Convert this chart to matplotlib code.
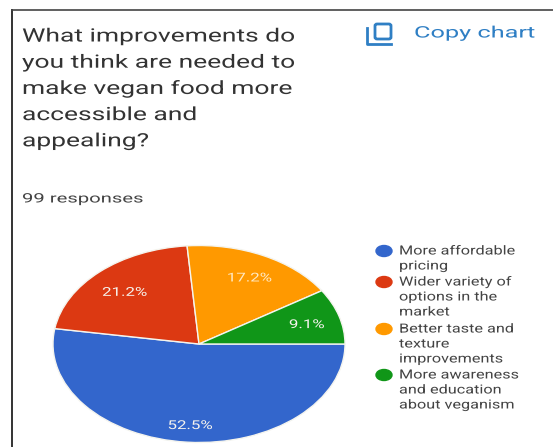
import matplotlib
matplotlib.use('Agg')
import matplotlib.pyplot as plt
import matplotlib.patheffects as pe
from matplotlib.lines import Line2D
from matplotlib.patches import Ellipse, FancyBboxPatch
from matplotlib.transforms import Affine2D

W, H = 553, 447

title_lines = ['What improvements do', 'you think are needed to', 'make vegan food more', 'accessible and', 'appealing?']
responses = '99 responses'
copy_label = 'Copy chart'

shares = [52.5, 21.2, 17.2, 9.1]
colors = ['#3366cc', '#dc3912', '#ff9900', '#109618']
legend_labels = [
    ['More affordable', 'pricing'],
    ['Wider variety of', 'options in the', 'market'],
    ['Better taste and', 'texture', 'improvements'],
    ['More awareness', 'and education', 'about veganism'],
]


class StretchX(pe.AbstractPathEffect):
    # the screenshot is stretched sideways, so the glyphs are too
    def __init__(self, x0, factor):
        super().__init__()
        self.x0 = x0
        self.factor = factor

    def draw_path(self, renderer, gc, tpath, affine, rgbFace=None):
        stretch = Affine2D().translate(-self.x0, 0).scale(self.factor, 1).translate(self.x0, 0)
        renderer.draw_path(gc, tpath, affine + stretch, rgbFace)


def fx(x):
    return x / W


def fy(y):
    return 1 - y / H


def put_text(x, y, s, size, color, factor):
    t = fig.text(fx(x), fy(y), s, fontsize=size, color=color, va='center', ha='left')
    t.set_path_effects([StretchX(x, factor)])
    return t


plt.rcParams['font.family'] = ['Roboto', 'DejaVu Sans']
fig = plt.figure(figsize=(W / 100, H / 100), dpi=100)

cx, cy, rx, ry = 199, 344, 146, 98.5
ax = fig.add_axes([fx(cx - rx), fy(cy + ry), 2 * rx / W, 2 * ry / H])
wedges, texts, autotexts = ax.pie(
    shares, colors=colors, startangle=0, counterclock=False, radius=1,
    autopct='%.1f%%', pctdistance=0.77,
    wedgeprops={'edgecolor': '#f4f4ee', 'linewidth': 1.0},
    textprops={'color': '#f6f3ee', 'fontsize': 8.8},
)
ax.set_xlim(-1, 1)
ax.set_ylim(-1, 1)
ax.set_aspect('auto')
autotexts[2].set_color('#ffe9c4')
# nudges for the percent labels, in pie radii
label_shift = [(0.0, -0.06), (0.015, -0.04), (0.005, -0.02), (0.0, -0.02)]
for t, (dx, dy) in zip(autotexts, label_shift):
    px, py = t.get_position()
    t.set_position((px + dx, py + dy))
    x0 = ax.transData.transform(t.get_position())[0]
    t.set_path_effects([StretchX(x0, 1.38)])

fig.add_artist(Line2D([fx(12), fx(12)], [fy(447), fy(9.5)], color='#333333', lw=1.4))
fig.add_artist(Line2D([fx(12), fx(553)], [fy(9.5), fy(9.5)], color='#444444', lw=1.2))

y = 36.5
for line in title_lines:
    put_text(22, y, line, 13.2, '#333333', 1.44)
    y += 26.2
put_text(22, 199, responses, 9.4, '#444444', 1.55)

# copy icon
fig.add_artist(FancyBboxPatch((fx(375), fy(39)), 16 / W, 15 / H, boxstyle='round,pad=0,rounding_size=0.004',
                              fill=False, ec='#2f7fc4', lw=2, transform=fig.transFigure))
fig.add_artist(Line2D([fx(367), fx(367), fx(391)], [fy(28), fy(44), fy(44)], color='#2f7fc4', lw=2))
put_text(414, 33, copy_label, 11.4, '#2f7fc4', 1.6)

legend_y = [251, 282, 329, 375]
pitch = 15
for color, lines, y in zip(colors, legend_labels, legend_y):
    fig.add_artist(Ellipse((fx(384), fy(y)), 16 / W, 11 / H, color=color, transform=fig.transFigure))
    for i, line in enumerate(lines):
        put_text(399, y + i * pitch, line, 9, '#444444', 1.3)

fig.savefig('out.png', dpi=100)
